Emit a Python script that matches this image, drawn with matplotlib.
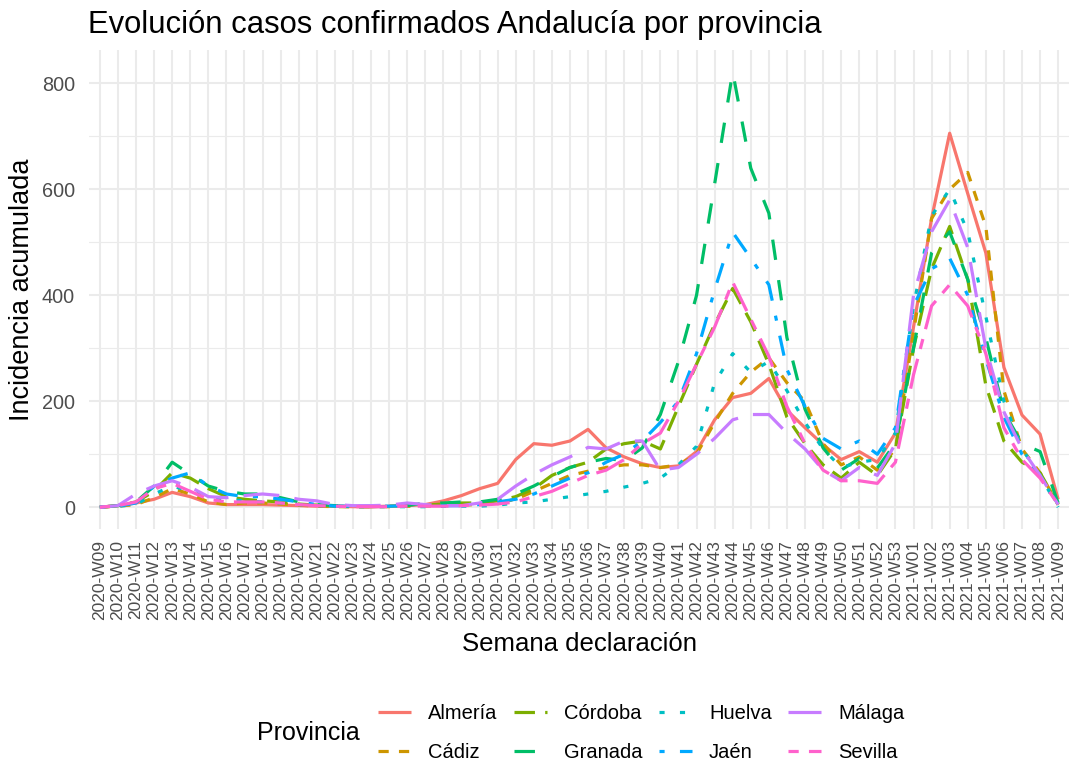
import numpy as np
import matplotlib
matplotlib.use("Agg")
import matplotlib.pyplot as plt

plt.rcParams["font.family"] = ["Liberation Sans", "DejaVu Sans"]

# semanas 2020-W09 ... 2020-W53, 2021-W01 ... 2021-W09
semanas = [f"2020-W{w:02d}" for w in range(9, 54)] + [f"2021-W{w:02d}" for w in range(1, 10)]

provincias = ["Almería", "Cádiz", "Córdoba", "Granada", "Huelva", "Jaén", "Málaga", "Sevilla"]

almeria = [0, 3, 8, 15, 28, 20, 8, 5, 5, 5, 4, 3, 2, 2, 1, 1, 2, 3, 5, 12, 22, 35, 45, 90,
           120, 117, 125, 147, 112, 95, 82, 75, 78, 105, 165, 207, 215, 243, 183, 150, 118, 90,
           105, 85, 140, 340, 545, 706, 592, 480, 264, 174, 138, 15]
cadiz = [0, 2, 5, 18, 35, 25, 10, 5, 8, 8, 6, 4, 2, 1, 1, 1, 1, 2, 2, 3, 4, 5, 8, 15,
         30, 45, 60, 68, 75, 80, 80, 75, 80, 100, 160, 215, 255, 282, 235, 200, 120, 80,
         95, 70, 110, 330, 545, 600, 632, 530, 220, 110, 65, 5]
cordoba = [0, 3, 10, 30, 65, 55, 35, 20, 15, 12, 10, 6, 4, 2, 1, 1, 2, 3, 4, 6, 8, 8, 12, 20,
           35, 60, 75, 85, 110, 120, 125, 110, 190, 270, 345, 413, 350, 270, 170, 120, 80, 55,
           85, 60, 110, 300, 450, 530, 430, 230, 125, 85, 65, 5]
granada = [0, 3, 10, 40, 85, 62, 40, 30, 25, 25, 18, 10, 5, 3, 2, 2, 2, 3, 8, 8, 10, 10, 15, 25,
           40, 58, 75, 85, 92, 88, 112, 175, 275, 400, 610, 822, 640, 555, 320, 185, 112, 70,
           92, 74, 121, 300, 480, 520, 430, 320, 180, 120, 105, 8]
huelva = [0, 2, 5, 25, 40, 30, 20, 15, 12, 10, 8, 5, 3, 2, 1, 1, 1, 1, 1, 2, 2, 2, 4, 8,
          10, 15, 20, 25, 30, 38, 45, 55, 80, 115, 235, 290, 255, 275, 220, 160, 110, 75,
          85, 90, 140, 380, 550, 600, 520, 360, 200, 110, 60, 0]
jaen = [0, 2, 8, 40, 55, 65, 40, 25, 20, 20, 15, 10, 5, 2, 2, 2, 2, 3, 3, 3, 3, 5, 10, 15,
        25, 40, 55, 65, 85, 100, 125, 160, 200, 290, 410, 519, 470, 420, 260, 190, 130, 110,
        125, 100, 150, 380, 450, 470, 400, 280, 170, 100, 60, 5]
malaga = [0, 3, 25, 40, 50, 38, 20, 18, 22, 25, 22, 15, 12, 5, 3, 3, 4, 8, 5, 3, 3, 8, 15, 40,
          62, 80, 95, 113, 110, 125, 125, 70, 75, 100, 130, 165, 175, 175, 140, 110, 70, 50,
          75, 60, 120, 400, 520, 580, 490, 300, 180, 110, 60, 5]
sevilla = [0, 3, 10, 35, 45, 30, 15, 10, 10, 10, 8, 5, 3, 2, 1, 1, 1, 2, 2, 2, 3, 4, 6, 10,
           20, 30, 45, 60, 70, 90, 120, 140, 200, 270, 340, 425, 355, 285, 190, 120, 70, 50,
           50, 45, 85, 250, 380, 420, 380, 290, 150, 90, 55, 5]

series = [almeria, cadiz, cordoba, granada, huelva, jaen, malaga, sevilla]

colores = ["#F8766D", "#CD9600", "#7CAE00", "#00BE67", "#00BFC4", "#00A9FF", "#C77CFF", "#FF61CC"]
# linetypes de ggplot: solid, 22, 42, 44, 13, 1343, 73, 2262
patrones = [None, (2, 2), (4, 2), (4, 4), (1, 3), (1, 3, 4, 3), (7, 3), (2, 2, 6, 2)]
escala = 1.6

fig = plt.figure(figsize=(10.76, 7.67), dpi=100)
ax = fig.add_axes([89 / 1076, 1 - 529 / 767, (1069 - 89) / 1076, (529 - 50) / 767])

x = np.arange(len(semanas))
for vals, col, pat, nombre in zip(series, colores, patrones, provincias):
    if pat is None:
        ls = "-"
    else:
        ls = (0, tuple(p * escala for p in pat))
    ax.plot(x, vals, color=col, linestyle=ls, linewidth=2.3, label=nombre,
            solid_capstyle="butt", dash_capstyle="butt")

ymax = max(max(s) for s in series)
ax.set_xlim(-0.6, len(semanas) - 1 + 0.6)
ax.set_ylim(-0.05 * ymax, ymax * 1.05)

ax.set_xticks(x)
ax.set_xticklabels(semanas, rotation=90, fontsize=12.5, color="#4D4D4D")
ax.set_yticks([0, 200, 400, 600, 800])
ax.set_yticks([100, 300, 500, 700], minor=True)
ax.tick_params(axis="y", labelsize=14.3, labelcolor="#4D4D4D", length=0, pad=10)
ax.tick_params(axis="x", length=0, pad=8)
ax.tick_params(which="minor", length=0)

ax.grid(True, which="major", color="#EBEBEB", linewidth=1.5)
ax.grid(True, which="minor", axis="y", color="#EBEBEB", linewidth=0.8)
ax.set_axisbelow(True)
for s in ax.spines.values():
    s.set_visible(False)

fig.text(88 / 1076, 1 - 33 / 767, "Evolución casos confirmados Andalucía por provincia",
         fontsize=22.3, va="baseline", ha="left", color="black")
fig.text(579 / 1076, 1 - 651 / 767, "Semana declaración", fontsize=18.5,
         va="baseline", ha="center")
fig.text(22 / 1076, 1 - 290 / 767, "Incidencia acumulada", fontsize=19.5,
         rotation=90, va="center", ha="center")

fig.text(257 / 1076, 1 - 733 / 767, "Provincia", fontsize=18, va="center", ha="left")
fig.legend(loc="center left", bbox_to_anchor=(378 / 1076, 1 - 733 / 767), ncol=4,
           frameon=False, fontsize=14.5, handlelength=1.65, handletextpad=0.85,
           columnspacing=0.8, labelspacing=0.95, borderpad=0, borderaxespad=0)

fig.savefig("out.png", dpi=100)
